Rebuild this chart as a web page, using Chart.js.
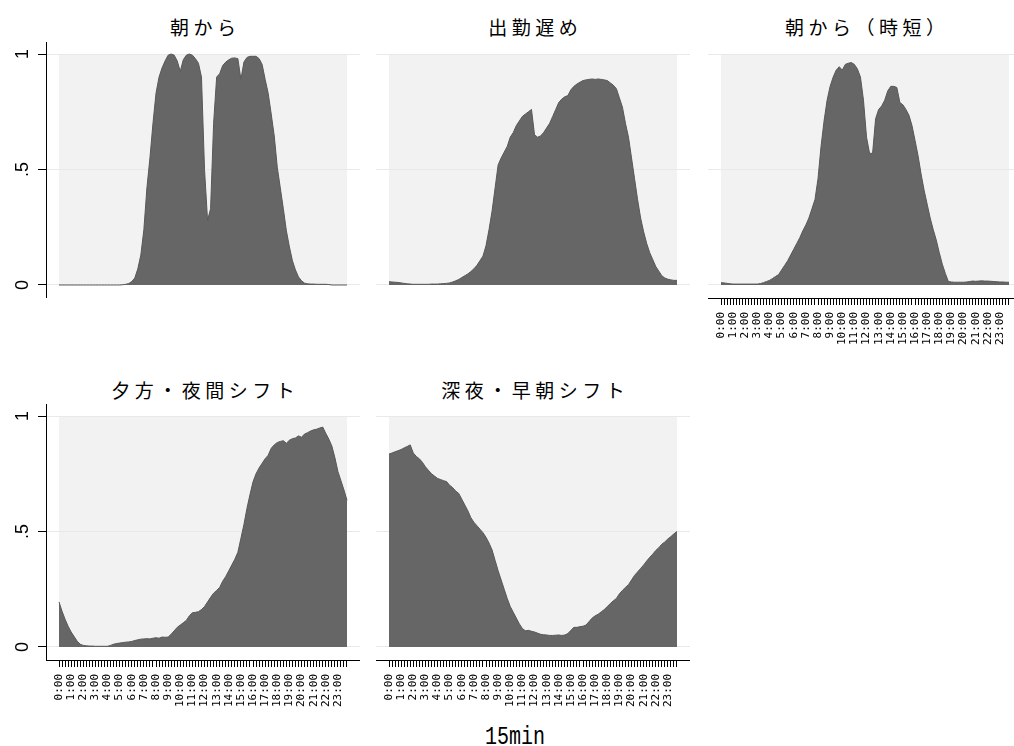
<!DOCTYPE html>
<html>
<head>
<meta charset="utf-8">
<script src="https://cdn.jsdelivr.net/npm/chart.js@4.4.0/dist/chart.umd.min.js"></script>
<style>
  html, body { margin: 0; padding: 0; background: #fff; overflow: hidden; }
  body { width: 1014px; height: 746px; position: relative; }
  canvas { position: absolute; }
  .title {
    position: absolute; text-align: center; white-space: nowrap;
    font-family: "Noto Sans CJK JP", sans-serif; font-size: 19px; line-height: 19px;
    letter-spacing: 4.5px; padding-left: 4.5px; box-sizing: border-box; color: #000;
  }
  #xtitle {
    position: absolute; left: 415px; width: 200px; top: 725px; text-align: center;
    font-family: "Liberation Mono", monospace; font-size: 25px; line-height: 25px;
    transform: scaleX(0.8); color: #000;
  }
</style>
</head>
<body>
<div class="title" style="left:46px;width:314px;top:17px">朝から</div>
<div class="title" style="left:376px;width:314px;top:17px">出勤遅め</div>
<div class="title" style="left:708px;width:314px;top:17px">朝から（時短）</div>
<div class="title" style="left:46px;width:314px;top:380px">夕方・夜間シフト</div>
<div class="title" style="left:376px;width:314px;top:380px">深夜・早朝シフト</div>
<div id="xtitle">15min</div>

<canvas id="p1" width="360" height="256" style="left:0;top:42px"></canvas>
<canvas id="p2" width="314" height="256" style="left:376px;top:42px"></canvas>
<canvas id="p3" width="314" height="306" style="left:708px;top:42px"></canvas>
<canvas id="p4" width="360" height="306" style="left:0;top:404px"></canvas>
<canvas id="p5" width="314" height="306" style="left:376px;top:404px"></canvas>

<script>
// 96 slots of 15 minutes, labelled every hour
const hourLabels = ['0:00','1:00','2:00','3:00','4:00','5:00','6:00','7:00','8:00','9:00','10:00','11:00',
                    '12:00','13:00','14:00','15:00','16:00','17:00','18:00','19:00','20:00','21:00','22:00','23:00'];
const yTickValues = [0, 0.5, 1];
const yTickLabels = ['0', '.5', '1'];

// 朝から
const morning = [
  0,0,0,0,0,0,0,0,0,0,
  0,0,0,0,0,0,0,0,0,0,
  0,0.001,0.003,0.006,0.015,0.03,0.07,0.13,0.24,0.42,
  0.55,0.70,0.83,0.90,0.94,0.97,0.995,1.0,0.995,0.97,
  0.925,0.975,0.995,1.0,0.995,0.98,0.96,0.90,0.50,0.28,
  0.33,0.70,0.90,0.915,0.95,0.965,0.975,0.982,0.983,0.98,
  0.89,0.965,0.985,0.99,0.99,0.99,0.98,0.955,0.89,0.83,
  0.74,0.645,0.51,0.42,0.33,0.235,0.165,0.105,0.065,0.035,
  0.018,0.008,0.005,0.004,0.004,0.003,0.003,0.003,0.003,0.002,
  0,0,0,0,0,0
];
// 出勤遅め
const lateStart = [
  0.014,0.013,0.012,0.011,0.009,0.007,0.005,0.004,0.003,0.003,
  0.003,0.003,0.003,0.003,0.004,0.004,0.004,0.005,0.006,0.007,
  0.009,0.013,0.018,0.024,0.032,0.04,0.048,0.058,0.07,0.085,
  0.105,0.125,0.17,0.24,0.32,0.42,0.52,0.55,0.575,0.6,
  0.64,0.66,0.69,0.71,0.73,0.74,0.75,0.76,0.65,0.64,
  0.645,0.66,0.68,0.7,0.73,0.76,0.79,0.805,0.815,0.82,
  0.845,0.86,0.87,0.878,0.885,0.888,0.89,0.892,0.89,0.892,
  0.89,0.888,0.885,0.875,0.865,0.85,0.81,0.77,0.7,0.64,
  0.55,0.46,0.37,0.29,0.23,0.18,0.14,0.11,0.08,0.06,
  0.04,0.03,0.025,0.022,0.02,0.02
];
// 朝から（時短）
const morningShort = [
  0.01,0.009,0.007,0.005,0.004,0.004,0.004,0.004,0.004,0.004,
  0.004,0.004,0.004,0.006,0.01,0.015,0.02,0.028,0.037,0.045,
  0.065,0.085,0.105,0.13,0.155,0.18,0.205,0.235,0.26,0.29,
  0.33,0.37,0.46,0.6,0.71,0.8,0.86,0.9,0.93,0.945,
  0.93,0.955,0.96,0.963,0.955,0.935,0.9,0.8,0.64,0.57,
  0.57,0.72,0.76,0.775,0.8,0.84,0.86,0.86,0.855,0.79,
  0.78,0.76,0.735,0.69,0.626,0.56,0.48,0.41,0.35,0.29,
  0.24,0.195,0.14,0.09,0.05,0.015,0.013,0.012,0.012,0.012,
  0.012,0.013,0.015,0.017,0.016,0.017,0.018,0.017,0.017,0.016,
  0.015,0.014,0.013,0.013,0.012,0.012
];
// 夕方・夜間シフト
const evening = [
  0.195,0.155,0.12,0.09,0.065,0.045,0.025,0.012,0.007,0.005,
  0.004,0.004,0.003,0.003,0.003,0.003,0.003,0.007,0.012,0.015,
  0.017,0.019,0.021,0.022,0.024,0.028,0.031,0.034,0.035,0.036,
  0.035,0.038,0.04,0.038,0.043,0.042,0.043,0.055,0.07,0.085,
  0.095,0.105,0.115,0.135,0.148,0.15,0.153,0.162,0.175,0.195,
  0.215,0.233,0.245,0.258,0.285,0.305,0.33,0.355,0.38,0.41,
  0.47,0.53,0.6,0.66,0.715,0.75,0.775,0.795,0.815,0.83,
  0.86,0.875,0.885,0.89,0.893,0.882,0.895,0.902,0.905,0.914,
  0.908,0.922,0.928,0.935,0.94,0.943,0.948,0.952,0.925,0.9,
  0.87,0.82,0.76,0.72,0.68,0.635
];
// 深夜・早朝シフト
const night = [
  0.835,0.84,0.845,0.85,0.855,0.862,0.868,0.875,0.84,0.825,
  0.815,0.8,0.78,0.765,0.75,0.74,0.73,0.725,0.72,0.716,
  0.7,0.69,0.675,0.665,0.64,0.615,0.59,0.56,0.54,0.525,
  0.51,0.495,0.475,0.45,0.42,0.375,0.33,0.29,0.25,0.21,
  0.175,0.15,0.125,0.1,0.08,0.07,0.072,0.068,0.065,0.06,
  0.055,0.053,0.052,0.05,0.05,0.051,0.052,0.05,0.052,0.058,
  0.072,0.085,0.085,0.088,0.09,0.095,0.11,0.125,0.135,0.142,
  0.152,0.162,0.175,0.188,0.2,0.21,0.23,0.245,0.258,0.27,
  0.29,0.31,0.325,0.34,0.355,0.372,0.388,0.402,0.418,0.43,
  0.445,0.455,0.468,0.478,0.49,0.5
];

// light grey plot region behind the data, like Stata's plotregion
const plotRegion = {
  id: 'plotRegion',
  beforeDraw(chart) {
    const { ctx, scales: { x, y } } = chart;
    const n = chart.data.datasets[0].data.length - 1;
    const x0 = x.getPixelForValue(0), x1 = x.getPixelForValue(n);
    const y0 = y.getPixelForValue(1), y1 = y.getPixelForValue(0);
    ctx.save();
    ctx.fillStyle = '#f2f2f2';
    ctx.fillRect(x0, y0, x1 - x0, y1 - y0);
    ctx.restore();
  }
};

function makePanel(id, values, showY, showX) {
  const ctx = document.getElementById(id).getContext('2d');
  return new Chart(ctx, {
    type: 'line',
    data: {
      datasets: [{
        data: values.map((v, i) => ({ x: i, y: v })),
        backgroundColor: '#666666',
        borderColor: '#585858',
        borderWidth: 1,
        pointRadius: 0,
        fill: 'origin',
        tension: 0
      }]
    },
    options: {
      responsive: false,
      animation: false,
      events: [],
      layout: { padding: 0 },
      plugins: { legend: { display: false }, tooltip: { enabled: false }, title: { display: false } },
      scales: {
        x: {
          type: 'linear',
          display: showX,
          min: -4.29,
          max: 99.29,
          afterBuildTicks: s => { s.ticks = values.map((v, i) => ({ value: i })); },
          afterFit: s => { s.height = showX ? 50 : 0; s.paddingLeft = 0; s.paddingRight = 0; },
          grid: { display: true, drawOnChartArea: false, drawTicks: true, tickLength: 7, tickColor: '#000', color: '#000' },
          border: { display: true, color: '#000', width: 1 },
          ticks: {
            autoSkip: false,
            minRotation: 90,
            maxRotation: 90,
            padding: 7,
            color: '#000',
            font: { family: 'DejaVu Sans Mono', size: 11 },
            callback: v => (v % 4 === 0 ? hourLabels[v / 4] : '')
          }
        },
        y: {
          type: 'linear',
          min: -0.0563,
          max: 1.052,
          afterBuildTicks: s => { s.ticks = yTickValues.map(v => ({ value: v })); },
          afterFit: s => { s.width = showY ? 46 : 0; s.paddingTop = 0; s.paddingBottom = 0; },
          grid: { color: '#e9e9e9', lineWidth: 1, drawTicks: showY, tickLength: 8, tickColor: '#000' },
          border: { display: showY, color: '#000', width: 1 },
          ticks: {
            display: showY,
            minRotation: 90,
            maxRotation: 90,
            crossAlign: 'center',
            padding: 7,
            color: '#000',
            font: { family: 'Liberation Sans', size: 18 },
            callback: v => yTickLabels[yTickValues.indexOf(v)]
          }
        }
      }
    },
    plugins: [plotRegion]
  });
}

makePanel('p1', morning, true, false);
makePanel('p2', lateStart, false, false);
makePanel('p3', morningShort, false, true);
makePanel('p4', evening, true, true);
makePanel('p5', night, false, true);
</script>
</body>
</html>
